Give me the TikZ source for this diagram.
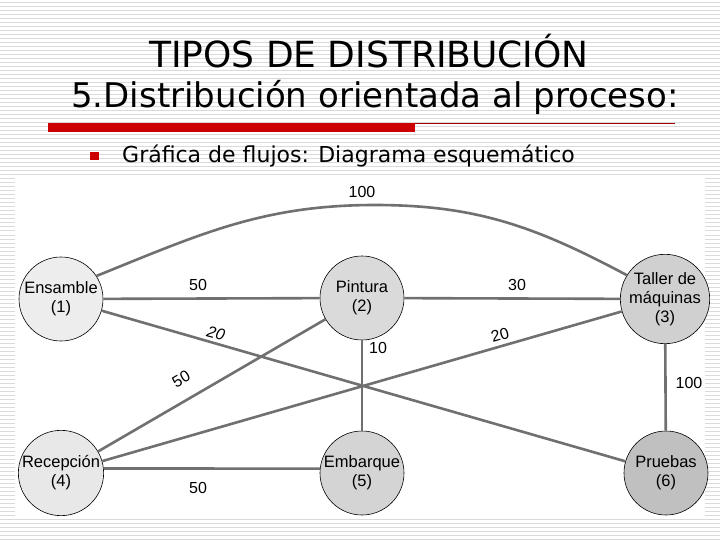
\documentclass[tikz,border=0pt]{standalone}
\usepackage{fontspec}
\setmainfont{Liberation Sans}
\newfontfamily\titlefont{DejaVu Sans}
\definecolor{stripegray}{HTML}{DADADA}
\definecolor{edgegray}{HTML}{707070}
\definecolor{barred}{HTML}{CC0000}
\definecolor{thinred}{HTML}{A00000}
\tikzset{
  stripe/.style={draw=stripegray, line width=1pt},
  station/.style={circle, draw=black, line width=0.6pt, minimum size=84pt, inner sep=0pt, align=center,
     font=\fontsize{16.5}{19}\selectfont},
  flow/.style={draw=edgegray, line width=2.6pt},
  flowlabel/.style={inner sep=0pt, font=\fontsize{16}{18}\selectfont},
  titletext/.style={anchor=base, inner sep=0pt, font=\titlefont\fontsize{36}{40}\selectfont}
}
\begin{document}
\begin{tikzpicture}[x=1pt,y=-1pt]
\useasboundingbox (0,0) rectangle (720,540);
\fill[white] (0,0) rectangle (720,540);
\foreach \k in {0,...,134} {
  \draw[stripe] (0,4*\k+3) -- (720,4*\k+3);
}
\fill[white] (15,178) rectangle (705,517);
% titles
\node[titletext] (t1) at (369,68) {TIPOS DE DISTRIBUCIÓN};
\node[titletext, font=\titlefont\fontsize{34}{40}\selectfont] (t2) at (375,108) {5.Distribución orientada al proceso:};
\fill[barred] (48,123) rectangle (415,132);
\draw[thinred, line width=1pt] (415,123.5) -- (675,123.5);
\fill[barred] (90,152) rectangle (98.5,160.5);
\node[anchor=base west, inner sep=0pt, font=\titlefont\fontsize{22}{26}\selectfont] (bl) at (122,163) {Gráfica de flujos: Diagrama esquemático};
% stations
\node[station, fill={rgb,255:red,237;green,237;blue,237}] (n1) at (61,299) {Ensamble\\(1)};
\node[station, fill={rgb,255:red,218;green,218;blue,218}] (n2) at (362,298) {Pintura\\(2)};
\node[station, fill={rgb,255:red,208;green,208;blue,208}] (n3) at (665,299) {Taller de\\máquinas\\(3)};
\node[station, fill={rgb,255:red,232;green,232;blue,232}] (n4) at (61,473) {Recepción\\(4)};
\node[station, fill={rgb,255:red,212;green,212;blue,212}] (n5) at (362,473) {Embarque\\(5)};
\node[station, fill={rgb,255:red,192;green,192;blue,192}] (n6) at (666,473) {Pruebas\\(6)};
\coordinate (peak) at (375,205);
% flows
\draw[flow] (n1.33) to[out=22,in=180] (peak) to[out=0,in=152] (n3.148);
\draw[flow] (n1) -- (n2);
\draw[flow] (n2) -- (n3);
\draw[flow] (n1) -- (n6);
\draw[flow] (n2) -- (n4);
\draw[flow] (n3) -- (n4);
\draw[flow] (n2) -- (n5);
\draw[flow] (n3) -- (n6);
\draw[flow] (n4.6) -- (n5.174);
% labels
\node[flowlabel] (l13) at (362,192) {100};
\node[flowlabel] (l12) at (198,285) {50};
\node[flowlabel] (l23) at (517,285) {30};
\node[flowlabel, rotate=-15] (l16) at (216,333) {\itshape 20};
\node[flowlabel, rotate=30] (l24) at (181,379) {50};
\node[flowlabel, rotate=16] (l34) at (500,335) {20};
\node[flowlabel] (l25) at (378,348) {10};
\node[flowlabel] (l36) at (689,383) {100};
\node[flowlabel] (l45) at (198,488) {50};
\end{tikzpicture}
\end{document}
